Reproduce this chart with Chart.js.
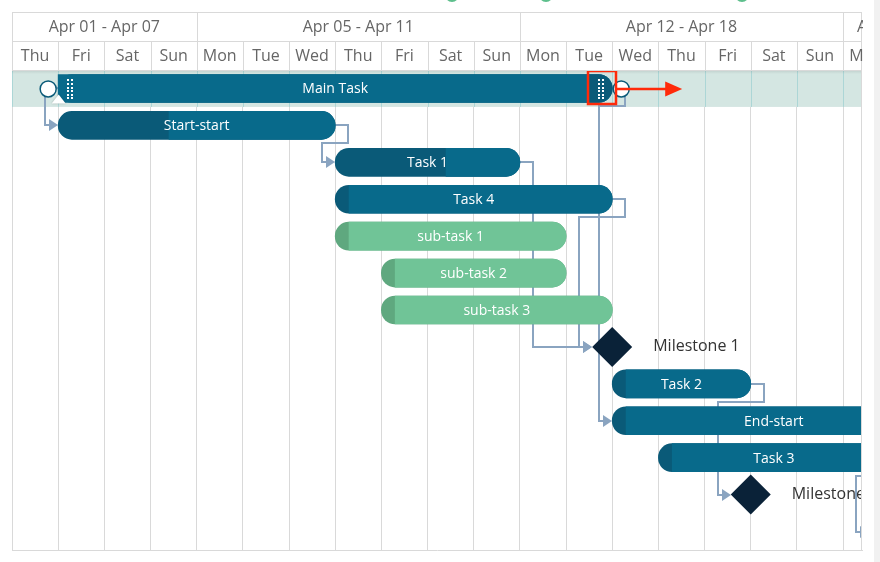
<!DOCTYPE html>
<html>
<head>
<meta charset="utf-8">
<script src="https://cdn.jsdelivr.net/npm/chart.js@4.4.1/dist/chart.umd.min.js"></script>
<style>
    html, body { margin: 0; padding: 0; background: #fff; }
    .gantt-wrap { position: relative; width: 880px; height: 562px; }
</style>
</head>
<body>
<div class="gantt-wrap"><canvas id="ganttChart"></canvas></div>
<script>
// Rows of the gantt (top to bottom)
const taskNames = ['Main Task', 'Start-start', 'Task 1', 'Task 4', 'sub-task 1', 'sub-task 2', 'sub-task 3',
    'Milestone 1', 'Task 2', 'End-start', 'Task 3', 'Milestone 2', 'Task 5'];
// Start / end in days from the first visible day (Thu)
const taskStart = [1, 1, 7, 7, 7, 8, 8, null, 13, 13, 14, null, 18.56];
const taskEnd = [13, 7, 11, 13, 12, 12, 13, null, 16, 20, 19, null, 22];
const taskProgress = [null, 40, 60, 0, 0, 0, 0, null, 0, 0, 0, null, 0];
const subTasks = ['sub-task 1', 'sub-task 2', 'sub-task 3'];

const milestoneNames = ['Milestone 1', 'Milestone 2'];
const milestoneDay = [13, 16];

// Dependencies: [from, to, type]
const links = [
    ['Main Task', 'Start-start', 'start-start'],
    ['Start-start', 'Task 1', 'end-start'],
    ['Task 1', 'Milestone 1', 'end-start'],
    ['Task 4', 'Milestone 1', 'end-start'],
    ['Main Task', 'End-start', 'end-start'],
    ['Task 2', 'Milestone 2', 'end-start'],
    ['Task 3', 'Task 5', 'end-start']
];

// Timeline header
const dayLabels = ['Thu', 'Fri', 'Sat', 'Sun', 'Mon', 'Tue', 'Wed', 'Thu', 'Fri', 'Sat', 'Sun',
    'Mon', 'Tue', 'Wed', 'Thu', 'Fri', 'Sat', 'Sun', 'Mon'];
const weekLabels = ['Apr 01 - Apr 07', 'Apr 05 - Apr 11', 'Apr 12 - Apr 18', 'Apr 19 - Apr 25'];
const weekStartDay = [-3, 4, 11, 18];

const VISIBLE_DAYS = 18.41;
const PROGRESS_CAP = 0.3;   // dark cap shown even when progress is 0
const MILESTONE_R = 20;
const LINK_GAP = 13;

const BLUE = '#086a8b', BLUE_DARK = '#0a5a78';
const GREEN = '#70c497', GREEN_DARK = '#5fa87f';
const LINK_COLOR = '#8aa4c0';
const FONT = '"Open Sans", "Noto Sans", sans-serif';

const isSub = name => subTasks.includes(name);

const baseData = taskNames.map((n, i) => taskStart[i] === null ? null : [taskStart[i], taskEnd[i]]);
const restData = taskNames.map((n, i) => {
    if (taskStart[i] === null) return null;
    // summary task (no progress value) is drawn in one colour
    if (taskProgress[i] === null) return [taskStart[i], taskEnd[i]];
    const dur = taskEnd[i] - taskStart[i];
    const done = Math.max(taskProgress[i] / 100 * dur, PROGRESS_CAP);
    return [taskStart[i] + done, taskEnd[i]];
});
const milestoneData = milestoneNames.map((n, i) => ({ x: milestoneDay[i], y: n }));

function leftEdge(i, xs) {
    const m = milestoneNames.indexOf(taskNames[i]);
    if (m >= 0) return xs.getPixelForValue(milestoneDay[m]) - MILESTONE_R;
    return xs.getPixelForValue(taskStart[i]);
}

function rightEdge(i, xs) {
    const m = milestoneNames.indexOf(taskNames[i]);
    if (m >= 0) return xs.getPixelForValue(milestoneDay[m]) + MILESTONE_R;
    return xs.getPixelForValue(taskEnd[i]);
}

function pillPath(ctx, x0, x1, cy, h) {
    const r = h / 2;
    ctx.beginPath();
    ctx.moveTo(x0 + r, cy - r);
    ctx.lineTo(x1 - r, cy - r);
    ctx.arc(x1 - r, cy, r, -Math.PI / 2, Math.PI / 2);
    ctx.lineTo(x0 + r, cy + r);
    ctx.arc(x0 + r, cy, r, Math.PI / 2, Math.PI * 1.5);
    ctx.closePath();
}

const ganttDecor = {
    id: 'ganttDecor',
    beforeDraw(chart) {
        const ctx = chart.ctx;
        ctx.save();
        // scrollbar strip on the right
        ctx.fillStyle = '#f1f1f1';
        ctx.fillRect(874, 0, 6, chart.height);
        // toolbar icons peeking in at the top
        ctx.fillStyle = '#5dbf8c';
        [452, 546, 742].forEach(x => {
            ctx.beginPath();
            ctx.arc(x, -5, 7, 0, Math.PI * 2);
            ctx.fill();
        });
        ctx.restore();
    },
    beforeDatasetsDraw(chart) {
        const { ctx, chartArea: ca, scales: { x: xs, y: ys } } = chart;
        const rowH = ys.getPixelForValue(1) - ys.getPixelForValue(0);
        ctx.save();
        ctx.beginPath();
        ctx.rect(ca.left, ca.top, ca.right - ca.left, ca.bottom - ca.top);
        ctx.clip();

        // selected row highlight
        const r0 = ys.getPixelForValue(0);
        ctx.fillStyle = '#d4e6e2';
        ctx.fillRect(ca.left, r0 - rowH / 2, ca.right - ca.left, rowH);
        ctx.strokeStyle = '#acd6d6';
        ctx.lineWidth = 1;
        dayLabels.forEach((d, i) => {
            const px = Math.round(xs.getPixelForValue(i)) + 0.5;
            ctx.beginPath();
            ctx.moveTo(px, r0 - rowH / 2);
            ctx.lineTo(px, r0 + rowH / 2);
            ctx.stroke();
        });

        // header shadow
        const g = ctx.createLinearGradient(0, ca.top, 0, ca.top + 4);
        g.addColorStop(0, 'rgba(0,0,0,0.10)');
        g.addColorStop(1, 'rgba(0,0,0,0)');
        ctx.fillStyle = g;
        ctx.fillRect(ca.left, ca.top, ca.right - ca.left, 4);

        // dependency links
        ctx.strokeStyle = LINK_COLOR;
        ctx.fillStyle = LINK_COLOR;
        ctx.lineWidth = 2;
        links.forEach(([from, to, type]) => {
            const a = taskNames.indexOf(from), b = taskNames.indexOf(to);
            const sy = Math.round(ys.getPixelForValue(a));
            const ty = Math.round(ys.getPixelForValue(b));
            const tx = Math.round(leftEdge(b, xs));
            let pts;
            if (type === 'start-start') {
                const sx = Math.round(leftEdge(a, xs));
                const lx = Math.min(sx, tx) - LINK_GAP;
                pts = [[sx, sy], [lx, sy], [lx, ty], [tx - 6, ty]];
            } else {
                const sx = Math.round(rightEdge(a, xs));
                const rx = sx + LINK_GAP;
                if (tx - LINK_GAP >= rx) {
                    pts = [[sx, sy], [rx, sy], [rx, ty], [tx - 6, ty]];
                } else {
                    const by = Math.round(sy + rowH / 2);
                    pts = [[sx, sy], [rx, sy], [rx, by], [tx - LINK_GAP, by], [tx - LINK_GAP, ty], [tx - 6, ty]];
                }
            }
            ctx.beginPath();
            pts.forEach((p, k) => k ? ctx.lineTo(p[0], p[1]) : ctx.moveTo(p[0], p[1]));
            ctx.stroke();
            ctx.beginPath();
            ctx.moveTo(tx, ty);
            ctx.lineTo(tx - 9, ty - 6);
            ctx.lineTo(tx - 9, ty + 6);
            ctx.closePath();
            ctx.fill();
        });

        // connector circles of the selected task
        const mainL = xs.getPixelForValue(taskStart[0]);
        const mainR = xs.getPixelForValue(taskEnd[0]);
        ctx.fillStyle = '#fff';
        ctx.strokeStyle = BLUE_DARK;
        ctx.lineWidth = 1.5;
        [mainL - 10, mainR + 9].forEach(cx => {
            ctx.beginPath();
            ctx.arc(cx, r0 + 0.5, 8, 0, Math.PI * 2);
            ctx.fill();
            ctx.stroke();
        });
        ctx.restore();
    },
    afterDatasetsDraw(chart) {
        const { ctx, chartArea: ca, scales: { x: xs, y: ys } } = chart;
        ctx.save();
        ctx.beginPath();
        ctx.rect(ca.left, ca.top, ca.right - ca.left, ca.bottom - ca.top);
        ctx.clip();

        // selected task: dark end handle, grips, progress triangle
        const cy = ys.getPixelForValue(0);
        const mL = xs.getPixelForValue(taskStart[0]);
        const mR = xs.getPixelForValue(taskEnd[0]);
        ctx.save();
        pillPath(ctx, mL, mR, cy, 28);
        ctx.clip();
        ctx.fillStyle = BLUE_DARK;
        ctx.fillRect(mR - 23, cy - 15, 24, 30);
        ctx.restore();
        ctx.fillStyle = '#fff';
        [mL + 9, mL + 13, mR - 14, mR - 10].forEach(dx => {
            for (let k = 0; k < 6; k++) ctx.fillRect(Math.round(dx), Math.round(cy - 9 + k * 3.6), 2, 2);
        });
        ctx.fillStyle = '#fff';
        ctx.shadowColor = 'rgba(0,0,0,0.25)';
        ctx.shadowBlur = 2;
        ctx.beginPath();
        ctx.moveTo(mL + 0.5, cy + 6);
        ctx.lineTo(mL + 7.5, cy + 15);
        ctx.lineTo(mL - 6.5, cy + 15);
        ctx.closePath();
        ctx.fill();
        ctx.shadowBlur = 0;
        ctx.shadowColor = 'transparent';

        // bar labels
        ctx.font = '14px ' + FONT;
        ctx.fillStyle = '#fff';
        ctx.textAlign = 'center';
        ctx.textBaseline = 'middle';
        taskNames.forEach((n, i) => {
            if (taskStart[i] === null) return;
            const x0 = xs.getPixelForValue(taskStart[i]);
            const x1 = xs.getPixelForValue(taskEnd[i]);
            ctx.fillText(n, (x0 + x1) / 2, ys.getPixelForValue(i) + 1);
        });

        // milestone labels
        ctx.font = '16px ' + FONT;
        ctx.fillStyle = '#333';
        ctx.textAlign = 'left';
        milestoneNames.forEach((n, i) => {
            ctx.fillText(n, xs.getPixelForValue(milestoneDay[i]) + 41, ys.getPixelForValue(taskNames.indexOf(n)));
        });

        // red highlight box + arrow
        ctx.strokeStyle = '#ff2a0a';
        ctx.fillStyle = '#ff2a0a';
        ctx.lineWidth = 2.5;
        ctx.strokeRect(Math.round(mR) - 24, ca.top + 1, 28, 33);
        ctx.beginPath();
        ctx.moveTo(mR + 4, cy + 0.5);
        ctx.lineTo(mR + 56, cy + 0.5);
        ctx.stroke();
        ctx.beginPath();
        ctx.moveTo(mR + 70, cy + 0.5);
        ctx.lineTo(mR + 53, cy - 7);
        ctx.lineTo(mR + 53, cy + 8);
        ctx.closePath();
        ctx.fill();
        ctx.restore();
    },
    afterDraw(chart) {
        const { ctx, chartArea: ca, scales: { x: xs } } = chart;
        const top = 12, mid = 41, bottom = ca.top;
        ctx.save();
        ctx.fillStyle = '#fff';
        ctx.fillRect(ca.left, top, ca.right - ca.left, bottom - top);
        ctx.beginPath();
        ctx.rect(ca.left, 0, ca.right - ca.left + 1, chart.height);
        ctx.clip();

        ctx.strokeStyle = '#d9d9d9';
        ctx.lineWidth = 1;
        ctx.beginPath();
        [top, mid, bottom].forEach(y => {
            ctx.moveTo(ca.left, y + 0.5);
            ctx.lineTo(ca.right, y + 0.5);
        });
        dayLabels.forEach((d, i) => {
            const px = Math.round(xs.getPixelForValue(i)) + 0.5;
            ctx.moveTo(px, mid);
            ctx.lineTo(px, bottom);
        });
        weekStartDay.forEach(s => {
            const px = Math.round(xs.getPixelForValue(Math.max(s, 0))) + 0.5;
            ctx.moveTo(px, top);
            ctx.lineTo(px, mid);
        });
        const rx = Math.round(ca.right) - 0.5;
        ctx.moveTo(rx, top);
        ctx.lineTo(rx, ca.bottom);
        ctx.stroke();

        ctx.fillStyle = '#666';
        ctx.font = '16px ' + FONT;
        ctx.textBaseline = 'middle';
        ctx.textAlign = 'center';
        dayLabels.forEach((d, i) => {
            ctx.fillText(d, xs.getPixelForValue(i + 0.5), 56);
        });
        weekLabels.forEach((w, i) => {
            const s = Math.max(weekStartDay[i], 0);
            const e = weekStartDay[i] + 7;
            if (e > VISIBLE_DAYS) {
                ctx.textAlign = 'left';
                ctx.fillText(w, xs.getPixelForValue(s) + 14, 27);
                ctx.textAlign = 'center';
            } else {
                ctx.fillText(w, xs.getPixelForValue((s + e) / 2), 27);
            }
        });
        ctx.restore();
    }
};

const ctx = document.getElementById('ganttChart').getContext('2d');
new Chart(ctx, {
    type: 'bar',
    data: {
        labels: taskNames,
        datasets: [{
            label: 'remaining',
            data: restData,
            backgroundColor: taskNames.map(n => isSub(n) ? GREEN : BLUE),
            borderRadius: { topLeft: 0, bottomLeft: 0, topRight: 14, bottomRight: 14 },
            borderSkipped: false,
            barThickness: 28,
            grouped: false,
            order: 0
        }, {
            label: 'tasks',
            data: baseData,
            backgroundColor: taskNames.map(n => isSub(n) ? GREEN_DARK : BLUE_DARK),
            borderRadius: 14,
            borderSkipped: false,
            barThickness: 28,
            grouped: false,
            order: 1
        }, {
            type: 'line',
            label: 'milestones',
            data: milestoneData,
            showLine: false,
            pointStyle: 'rectRot',
            pointRadius: MILESTONE_R,
            pointHoverRadius: MILESTONE_R,
            pointBackgroundColor: '#0a2238',
            pointBorderWidth: 0,
            order: 2
        }]
    },
    options: {
        indexAxis: 'y',
        responsive: true,
        maintainAspectRatio: false,
        animation: false,
        layout: { autoPadding: false, padding: { left: 12, right: 18, top: 70, bottom: 12 } },
        plugins: {
            legend: { display: false },
            tooltip: { enabled: false }
        },
        scales: {
            x: {
                type: 'linear',
                min: 0,
                max: VISIBLE_DAYS,
                afterBuildTicks: scale => {
                    scale.ticks = dayLabels.map((d, i) => ({ value: i }));
                },
                ticks: { display: false },
                grid: { color: '#d9d9d9', drawTicks: false },
                border: { display: true, color: '#d9d9d9' }
            },
            y: {
                type: 'category',
                labels: taskNames,
                display: false,
                grid: { display: false }
            }
        }
    },
    plugins: [ganttDecor]
});
</script>
</body>
</html>
